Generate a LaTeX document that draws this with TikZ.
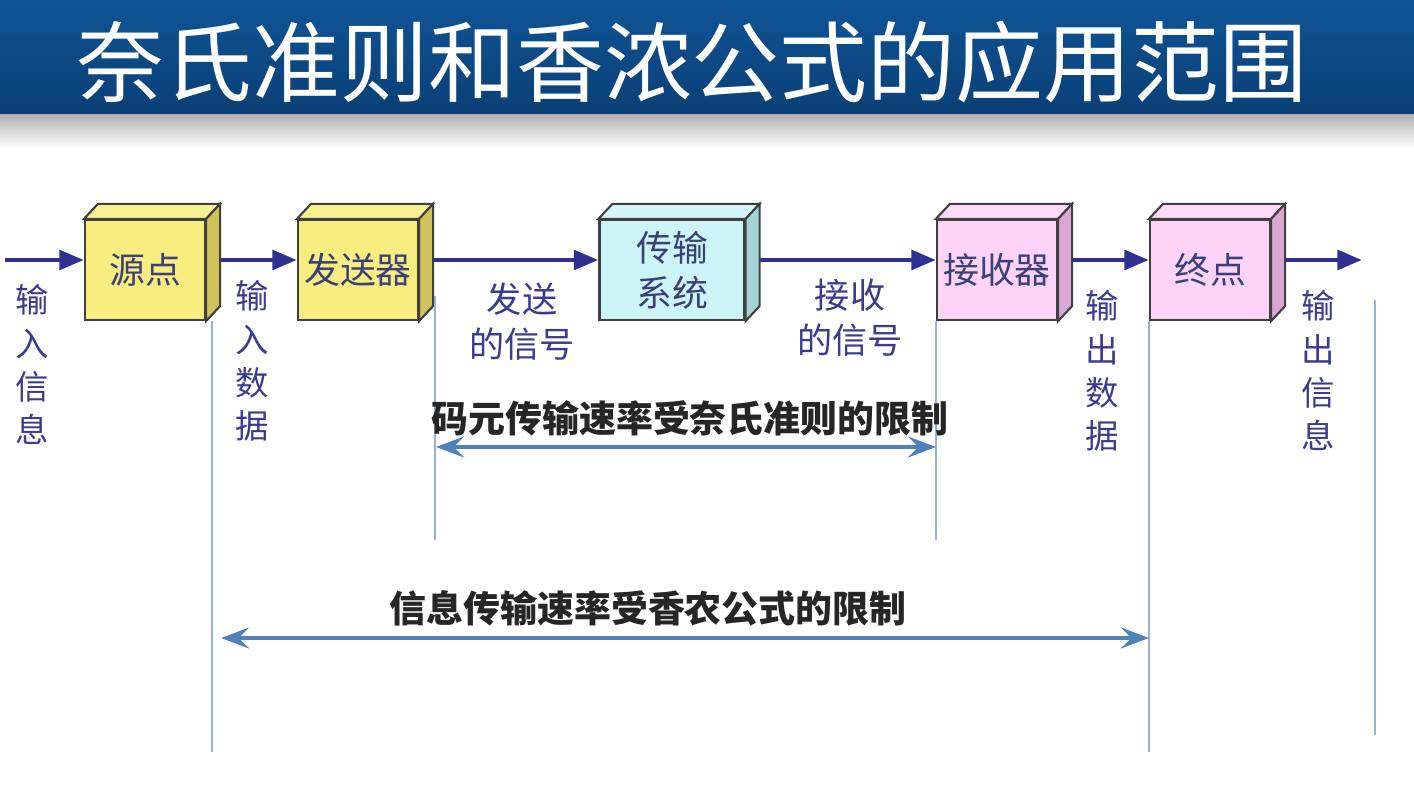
\documentclass[tikz,border=0pt]{standalone}
\usepackage{fontspec}
\setmainfont{Noto Sans CJK SC}
\usetikzlibrary{arrows.meta,positioning,calc}
\definecolor{titletop}{HTML}{0F5496}
\definecolor{titlebot}{HTML}{0A3F75}
\definecolor{flowblue}{HTML}{2E3192}
\definecolor{labelblue}{HTML}{3B3B8F}
\definecolor{boxtext}{HTML}{3C3F78}
\definecolor{rangeblue}{HTML}{4F81BD}
\definecolor{guideblue}{HTML}{95B3D7}
\definecolor{boxyellow}{HTML}{F7EE7F}
\definecolor{sideyellow}{HTML}{CFC35A}
\definecolor{boxcyan}{HTML}{CCF5F8}
\definecolor{sidecyan}{HTML}{A6D3D6}
\definecolor{boxpink}{HTML}{FDD3F8}
\definecolor{sidepink}{HTML}{D9A7D2}

\begin{document}
\begin{tikzpicture}[
  x=0.01cm, y=-0.01cm,
  face/.style={draw=black!75, line width=0.6pt, minimum width=1.2cm, minimum height=1cm, inner sep=0pt, align=center, text=boxtext, font=\fontsize{10.2}{12.8}\selectfont},
  vlabel/.style={anchor=north, inner sep=0pt, align=center, text=labelblue, font=\fontsize{9.5}{12.3}\selectfont},
  sig/.style={inner sep=0pt, align=center, text=labelblue, font=\fontsize{10}{12.8}\selectfont},
  limit/.style={inner sep=0pt, text=black!85, font=\bfseries\fontsize{10.5}{12}\selectfont},
  flow/.style={-{Triangle[length=7pt, width=5.5pt]}, flowblue, line width=1.4pt},
  span/.style={{Stealth[length=8pt, width=6pt, inset=3pt]}-{Stealth[length=8pt, width=6pt, inset=3pt]}, rangeblue, line width=0.9pt},
  guide/.style={guideblue, line width=0.6pt},
]
  \useasboundingbox (0,0) rectangle (1414,786);
  % title bar
  \shade[top color=titletop, bottom color=titlebot] (0,0) rectangle (1414,115);
  \shade[top color=black!30, bottom color=white] (0,115) rectangle (1414,148);
  \node[text=white, font=\fontsize{25}{25}\selectfont] (title) at (692,62) {奈氏准则和香浓公式的应用范围};

  % front faces of the blocks
  \node[face, fill=boxyellow] (src) at (145,270) {源点};
  \node[face, fill=boxyellow] (tx) at (358,270) {发送器};
  \node[face, fill=boxcyan, minimum width=1.45cm] (chan) at (672,270) {传输\\系统};
  \node[face, fill=boxpink] (rx) at (997,270) {接收器};
  \node[face, fill=boxpink] (dst) at (1210,270) {终点};

  % flow line
  \coordinate (in) at (5,260);
  \coordinate (out) at (1362,260);
  \draw[flow] (in) -- (src.west |- in);
  \draw[flow] (src.east |- in) -- (tx.west |- in);
  \draw[flow] (tx.east |- in) -- (chan.west |- in);
  \draw[flow] (chan.east |- in) -- (rx.west |- in);
  \draw[flow] (rx.east |- in) -- (dst.west |- in);
  \draw[flow] (dst.east |- in) -- (out);

  % top and side faces
  \foreach \n/\f/\s in {src/boxyellow/sideyellow, tx/boxyellow/sideyellow, chan/boxcyan/sidecyan, rx/boxpink/sidepink, dst/boxpink/sidepink} {
    \draw[draw=black!75, line width=0.6pt, fill=\f!85!white] (\n.north west) -- ++(14,-15) -- ($(\n.north east)+(14,-15)$) -- (\n.north east) -- cycle;
    \draw[draw=black!75, line width=0.6pt, fill=\s] (\n.north east) -- ++(14,-15) -- ($(\n.south east)+(14,-15)$) -- (\n.south east) -- cycle;
  }

  % signal labels
  \node[vlabel] (inInfo) at (32,284) {输\\入\\信\\息};
  \node[vlabel] (inData) at (252,280) {输\\入\\数\\据};
  \node[sig] (txSig) at (522,322) {发送\\的信号};
  \node[sig] (rxSig) at (850,318) {接收\\的信号};
  \node[vlabel] (outData) at (1102,290) {输\\出\\数\\据};
  \node[vlabel] (outInfo) at (1318,290) {输\\出\\信\\息};

  % guide lines
  \coordinate (endA) at (0,540);
  \coordinate (endB) at (0,752);
  \coordinate (rtop) at (1375,300);
  \coordinate (rbot) at (1375,735);
  \coordinate (ysA) at (0,447);
  \coordinate (ysB) at (0,638);
  \draw[guide] ($(src.south east)+(6,0)$) -- ($(src.south east |- endB)+(6,0)$);
  \draw[guide] ($(tx.south east)+(16,-25)$) -- ($(tx.south east |- endA)+(16,0)$);
  \draw[guide] (rx.south west) -- (rx.south west |- endA);
  \draw[guide] (dst.south west) -- (dst.south west |- endB);
  \draw[guide] (rtop) -- (rbot);

  % rate limits
  \draw[span] ($(tx.east |- ysA)+(17,0)$) -- (rx.west |- ysA);
  \node[limit] (nyq) at (690,418) {码元传输速率受奈氏准则的限制};
  \draw[span] ($(src.east |- ysB)+(15,0)$) -- (dst.west |- ysB);
  \node[limit] (shan) at (648,608) {信息传输速率受香农公式的限制};
\end{tikzpicture}
\end{document}
